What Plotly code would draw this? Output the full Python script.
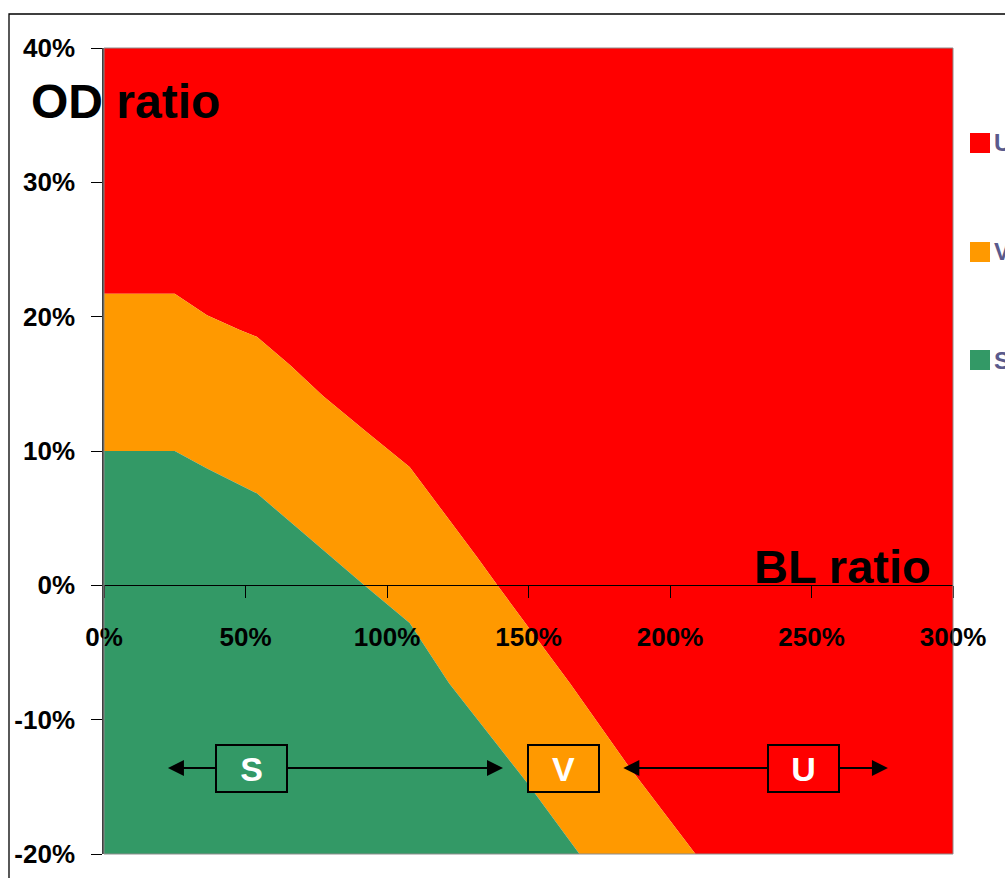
import plotly.graph_objects as go

# ---------------- data ----------------
# boundary between V (orange) and U (red) zones: BL ratio -> OD ratio
vu_x = [0.0, 0.25, 0.364, 0.48, 0.54, 0.657, 0.774, 0.929, 1.08, 1.187, 1.318, 1.39, 1.647, 1.848, 2.09]
vu_y = [0.217, 0.217, 0.201, 0.190, 0.185, 0.164, 0.141, 0.114, 0.088, 0.058, 0.021, 0.0, -0.073, -0.133, -0.20]
# boundary between S (green) and V (orange) zones
sv_x = [0.0, 0.25, 0.364, 0.54, 0.693, 0.92, 1.08, 1.22, 1.495, 1.68]
sv_y = [0.10, 0.10, 0.087, 0.0685, 0.041, 0.0, -0.028, -0.073, -0.147, -0.20]

x_range = [0.0, 3.0]
y_range = [-0.20, 0.40]
x_ticks = [0.0, 0.5, 1.0, 1.5, 2.0, 2.5, 3.0]
x_ticktext = ["0%", "50%", "100%", "150%", "200%", "250%", "300%"]
y_ticks = [-0.2, -0.1, 0.0, 0.1, 0.2, 0.3, 0.4]
y_ticktext = ["-20%", "-10%", "0%", "10%", "20%", "30%", "40%"]

zones = ["U", "V", "S"]
zone_colors = {"U": "#FF0000", "V": "#FF9900", "S": "#339966"}

# zone marker boxes on the chart (centre x) and arrow extents
box_y = -0.136
box_x = {"S": 0.52, "V": 1.624, "U": 2.47}
arrows = [("S", 0.226), ("S", 1.41), ("U", 1.835), ("U", 2.77)]

# ---------------- layout geometry ----------------
W, H = 1005, 878
ML, MR, MT, MB = 104, 52, 48, 24
PW, PH = W - ML - MR, H - MT - MB

def px_to_paper_x(px):
    return (px - ML) / PW

def px_to_paper_y(py):
    return (H - MB - py) / PH

FONT = "Liberation Sans, Arial, sans-serif"

fig = go.Figure()

# U zone (red): everything above the V/U boundary
fig.add_trace(go.Scatter(
    x=vu_x + [x_range[1], x_range[1], x_range[0]],
    y=vu_y + [y_range[0], y_range[1], y_range[1]],
    fill="toself", fillcolor=zone_colors["U"], mode="none", name="U",
    hoverinfo="skip", showlegend=False))
# V zone (orange): between the two boundaries
fig.add_trace(go.Scatter(
    x=vu_x + sv_x[::-1],
    y=vu_y + sv_y[::-1],
    fill="toself", fillcolor=zone_colors["V"], mode="none", name="V",
    hoverinfo="skip", showlegend=False))
# S zone (green): below the S/V boundary
fig.add_trace(go.Scatter(
    x=sv_x + [x_range[0]],
    y=sv_y + [y_range[0]],
    fill="toself", fillcolor=zone_colors["S"], mode="none", name="S",
    hoverinfo="skip", showlegend=False))

annotations = []

# arrows (head at tip, tail at box centre; box drawn over the tail)
for z, tip in arrows:
    annotations.append(dict(
        x=tip, y=box_y, ax=box_x[z], ay=box_y, xref="x", yref="y",
        axref="x", ayref="y", text="", showarrow=True,
        arrowhead=2, arrowsize=1.6, arrowwidth=2, arrowcolor="black"))

# zone boxes
for z in zones:
    annotations.append(dict(
        x=box_x[z], y=box_y, xref="x", yref="y", text="<b>%s</b>" % z,
        showarrow=False, font=dict(family=FONT, size=34, color="white"),
        bgcolor=zone_colors[z], bordercolor="black", borderwidth=2,
        borderpad=0, width=69, height=45, align="center", valign="middle"))

# axis titles
annotations.append(dict(
    x=0, y=0.40, xref="x", yref="y", text="<b>OD ratio</b>", showarrow=False,
    xanchor="left", yanchor="middle", xshift=-75, yshift=-53,
    font=dict(family=FONT, size=48, color="black")))
annotations.append(dict(
    x=2.93, y=0.0, xref="x", yref="y", text="<b>BL ratio</b>", showarrow=False,
    xanchor="right", yanchor="middle", yshift=19,
    font=dict(family=FONT, size=47, color="black")))

# legend (clipped at the right edge, as in the reference)
legend_centres = {"U": 143, "V": 252, "S": 360}
shapes = []
for z in zones:
    cy = legend_centres[z]
    shapes.append(dict(
        type="rect", xref="paper", yref="paper",
        x0=px_to_paper_x(970), x1=px_to_paper_x(990),
        y0=px_to_paper_y(cy + 10), y1=px_to_paper_y(cy - 10),
        fillcolor=zone_colors[z], line=dict(width=0)))
    annotations.append(dict(
        x=px_to_paper_x(992), y=px_to_paper_y(cy), xref="paper", yref="paper",
        text="<b>%s</b>" % z, showarrow=False, xanchor="left", yanchor="middle",
        font=dict(family=FONT, size=24, color="#5A5A8C")))

# plot area border (thin grey)
shapes.append(dict(type="rect", xref="paper", yref="paper", x0=0, x1=1, y0=0, y1=1,
                   line=dict(color="#8C8C8C", width=1), layer="above"))
# outer chart border (runs off the page right and bottom)
shapes.append(dict(type="rect", xref="paper", yref="paper",
                   x0=px_to_paper_x(9), x1=px_to_paper_x(1020),
                   y0=px_to_paper_y(900), y1=px_to_paper_y(14),
                   line=dict(color="black", width=1.3), layer="above"))

zero_pos = (0 - y_range[0]) / (y_range[1] - y_range[0])

fig.update_layout(
    width=W, height=H,
    margin=dict(l=ML, r=MR, t=MT, b=MB, autoexpand=False),
    paper_bgcolor="white", plot_bgcolor="white",
    showlegend=False,
    annotations=annotations, shapes=shapes,
    xaxis=dict(
        range=x_range, tickvals=x_ticks, ticktext=x_ticktext,
        anchor="free", position=zero_pos, side="bottom",
        showgrid=False, zeroline=False, showline=True,
        linecolor="black", linewidth=1.3,
        ticks="outside", ticklen=12, tickwidth=1.3, tickcolor="black",
        ticklabelstandoff=16,
        tickfont=dict(family=FONT, size=26, color="black", weight="bold"),
        fixedrange=True),
    yaxis=dict(
        range=y_range, tickvals=y_ticks, ticktext=y_ticktext,
        showgrid=False, zeroline=False, showline=True,
        linecolor="#404040", linewidth=1.5,
        ticks="outside", ticklen=11, tickwidth=1.3, tickcolor="black",
        ticklabelstandoff=11,
        tickfont=dict(family=FONT, size=26, color="black", weight="bold"),
        fixedrange=True),
)

fig.write_html(
    "out.html",
    config={"displayModeBar": False},
    post_script="document.body.style.margin='0px';document.body.style.overflow='hidden';"
)
